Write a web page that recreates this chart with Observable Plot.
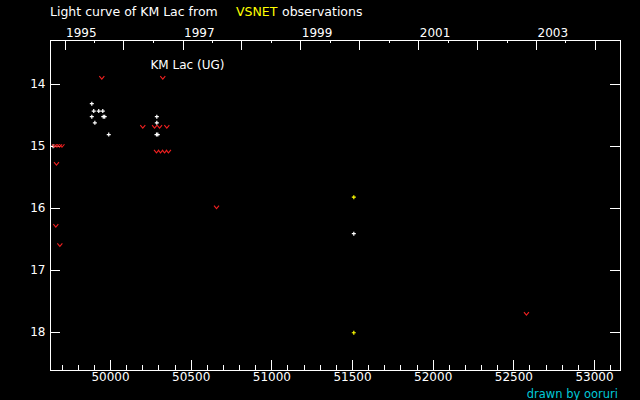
<!DOCTYPE html>
<html><head><meta charset="utf-8">
<script src="https://cdn.jsdelivr.net/npm/d3@7"></script>
<script src="https://cdn.jsdelivr.net/npm/@observablehq/plot@0.6"></script>
<style>
html,body{margin:0;padding:0;background:#000;}
#wrap{position:relative;width:640px;height:400px;overflow:hidden;font-family:"DejaVu Sans",sans-serif;}
.t{position:absolute;font-size:12.5px;white-space:pre;line-height:14px;}
</style></head><body><div id="wrap"></div>
<script>
// ---- data (JD - 2400000, magnitude) ----
const obsJD  = [49644, 49884, 49896, 49927, 49952, 49884, 49955, 49964, 49903, 49989, 50287, 50287, 50285, 50293, 51508];
const obsMag = [15.00, 14.31, 14.43, 14.43, 14.43, 14.52, 14.52, 14.52, 14.62, 14.81, 14.52, 14.62, 14.81, 14.81, 16.41];
const yelJD  = [51508, 51508];
const yelMag = [15.82, 18.01];
const limJD  = [49653, 49668, 49684, 49699, 49665, 49661, 49686, 49946, 50324, 50200, 50273, 50304, 50349, 50285, 50310, 50335, 50359, 50657, 52578];
const limMag = [14.99, 14.99, 14.99, 14.99, 15.28, 16.28, 16.59, 13.89, 13.89, 14.68, 14.68, 14.68, 14.68, 15.08, 15.08, 15.08, 15.08, 15.98, 17.70];
const xMajorTicks = [50000, 50500, 51000, 51500, 52000, 52500, 53000];
const xMinorTicks = [49700,49800,49900,50100,50200,50300,50400,50600,50700,50800,50900,51100,51200,51300,51400,51600,51700,51800,51900,52100,52200,52300,52400,52600,52700,52800,52900,53100];
const yTicks = [14, 15, 16, 17, 18];
const yearTicks = [1995,1996,1997,1998,1999,2000,2001,2002,2003,2004];
const yearLabels = [1995, 1997, 1999, 2001, 2003];
const halfYearTicks = [1995,1996,1997,1998,1999,2000,2001,2002,2003];

const jdOf = (y, m, d) => Date.UTC(y, m, d) / 86400000 + 40587.5;

const obs = obsJD.map((x, i) => ({x, y: obsMag[i]}));
const yel = yelJD.map((x, i) => ({x, y: yelMag[i]}));
const lim = limJD.map((x, i) => ({x, y: limMag[i]}));

const vSym = {draw(ctx){ ctx.moveTo(-2.5,-1.5); ctx.lineTo(0,1.5); ctx.lineTo(2.5,-1.5); }};
const plusSym = {draw(ctx){ ctx.moveTo(-2,0); ctx.lineTo(2,0); ctx.moveTo(0,-2); ctx.lineTo(0,2); }};

const W = 640, H = 400, mT = 40, mB = 30, mL = 50, mR = 20;
const fw = W - mL - mR, fh = H - mT - mB;

const chart = Plot.plot({
  width: W, height: H,
  marginTop: mT, marginBottom: mB, marginLeft: mL, marginRight: mR,
  style: {background: "#000", color: "#fff", fontFamily: "DejaVu Sans, sans-serif", fontSize: "12px"},
  x: {domain: [49628, 53161], axis: null},
  y: {domain: [13.29, 18.62], reverse: true, axis: null},
  marks: [
    Plot.frame({stroke: "white", shapeRendering: "crispEdges"}),
    // bottom ticks
    Plot.tickX(xMajorTicks, {x: d => d, stroke: "white", insetTop: fh - 10, shapeRendering: "crispEdges"}),
    Plot.tickX(xMinorTicks, {x: d => d, stroke: "white", insetTop: fh - 5, shapeRendering: "crispEdges"}),
    Plot.text(xMajorTicks, {x: d => d, text: d => String(d), frameAnchor: "bottom", dy: 10, fill: "white"}),
    // top (year) ticks
    Plot.tickX(yearTicks, {x: d => jdOf(d, 0, 1), stroke: "white", insetBottom: fh - 10, shapeRendering: "crispEdges"}),
    Plot.tickX(halfYearTicks, {x: d => jdOf(d, 6, 2), stroke: "white", insetBottom: fh - 3, shapeRendering: "crispEdges"}),
    Plot.text(yearLabels, {x: d => jdOf(d, 0, 1), text: d => String(d), frameAnchor: "top", dy: -12, dx: 1, textAnchor: "start", fill: "white"}),
    // y ticks
    Plot.tickY(yTicks, {y: d => d, stroke: "white", insetRight: fw - 10, shapeRendering: "crispEdges"}),
    Plot.tickY(yTicks, {y: d => d, stroke: "white", insetLeft: fw - 10, shapeRendering: "crispEdges"}),
    Plot.text(yTicks, {y: d => d, text: d => String(d), frameAnchor: "left", dx: -5, textAnchor: "end", fill: "white"}),
    // star name
    Plot.text(["KM Lac (UG)"], {text: d => d, frameAnchor: "top-left", dx: 100, dy: 20, textAnchor: "start", fill: "white"}),
    // data
    Plot.dot(obs, {x: "x", y: "y", symbol: plusSym, fill: "none", stroke: "white", strokeWidth: 1.2}),
    Plot.dot(yel, {x: "x", y: "y", symbol: plusSym, fill: "none", stroke: "#ffff00", strokeWidth: 1.2}),
    Plot.dot(lim, {x: "x", y: "y", symbol: vSym, fill: "none", stroke: "#f02020", strokeWidth: 1.1})
  ]
});

const wrap = document.getElementById("wrap");
wrap.appendChild(chart);
const addText = (txt, left, top, color, right, size, lh) => {
  const s = document.createElement("span");
  s.className = "t"; s.textContent = txt; s.style.color = color;
  if (right !== undefined) s.style.right = right + "px"; else s.style.left = left + "px";
  s.style.top = top + "px";
  if (size) s.style.fontSize = size + "px";
  if (lh) s.style.lineHeight = lh + "px";
  wrap.appendChild(s);
};
addText("Light curve of KM Lac from", 50, 5, "#ffffff");
addText("VSNET", 236, 5, "#ffff00");
addText("observations", 282, 5, "#ffffff");
addText("drawn by ooruri", 0, 388, "#00c8d8", 22, 11.5, 12);
</script></body></html>
